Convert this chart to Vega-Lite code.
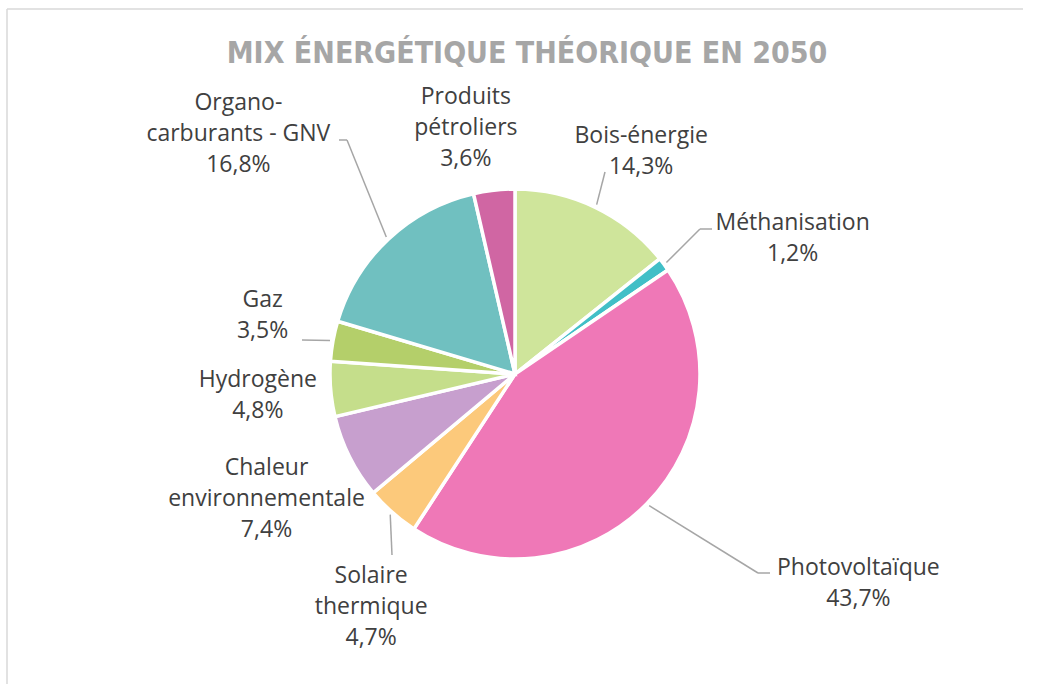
{
  "$schema": "https://vega.github.io/schema/vega-lite/v6.json",
  "width": 1016,
  "height": 730,
  "autosize": "none",
  "padding": {"left": 7, "top": 9, "right": 0, "bottom": 0},
  "background": "white",
  "title": {
    "text": "MIX ÉNERGÉTIQUE THÉORIQUE EN 2050",
    "font": "DejaVu Sans Condensed, DejaVu Sans, sans-serif",
    "fontSize": 30,
    "fontWeight": "bold",
    "color": "#a6a6a6",
    "anchor": "middle",
    "frame": "group",
    "baseline": "alphabetic",
    "offset": -85,
    "dx": 12
  },
  "config": {
    "view": {"stroke": null},
    "text": {"font": "Open Sans", "fontSize": 23, "color": "#404040", "lineHeight": 31, "baseline": "middle", "align": "center"}
  },
  "data": {
    "values": [
      {"rank": 1, "name": "Bois-énergie", "label": "Bois-énergie", "share": 14.3},
      {"rank": 2, "name": "Méthanisation", "label": "Méthanisation", "share": 1.2},
      {"rank": 3, "name": "Photovoltaïque", "label": "Photovoltaïque", "share": 43.7},
      {"rank": 4, "name": "Solaire thermique", "label": "Solaire\nthermique", "share": 4.7},
      {"rank": 5, "name": "Chaleur environnementale", "label": "Chaleur\nenvironnementale", "share": 7.4},
      {"rank": 6, "name": "Hydrogène", "label": "Hydrogène", "share": 4.8},
      {"rank": 7, "name": "Gaz", "label": "Gaz", "share": 3.5},
      {"rank": 8, "name": "Organo-carburants - GNV", "label": "Organo-\ncarburants - GNV", "share": 16.8},
      {"rank": 9, "name": "Produits pétroliers", "label": "Produits\npétroliers", "share": 3.6}
    ]
  },
  "layer": [
    {
      "data": {"values": [{}]},
      "mark": {"type": "rule", "stroke": "#d9d9d9", "strokeWidth": 1.5},
      "encoding": {"x": {"value": 0}, "x2": {"value": "width"}, "y": {"value": 0}}
    },
    {
      "data": {"values": [{}]},
      "mark": {"type": "rule", "stroke": "#d9d9d9", "strokeWidth": 1.5},
      "encoding": {"x": {"value": 0}, "y": {"value": 0}, "y2": {"value": "height"}}
    },
    {
      "mark": {"type": "arc", "outerRadius": 185, "stroke": "white", "strokeWidth": 3.5},
      "encoding": {
        "theta": {"field": "share", "type": "quantitative", "stack": true},
        "order": {"field": "rank", "type": "quantitative"},
        "color": {
          "field": "name",
          "type": "nominal",
          "legend": null,
          "scale": {
            "domain": ["Bois-énergie", "Méthanisation", "Photovoltaïque", "Solaire thermique", "Chaleur environnementale", "Hydrogène", "Gaz", "Organo-carburants - GNV", "Produits pétroliers"],
            "range": ["#cfe59b", "#41bfc7", "#ef78b7", "#fcc97b", "#c79fce", "#c5de8b", "#b4cf6a", "#70c0c0", "#d066a3"]
          }
        }
      }
    },
    {
      "transform": [
        {"stack": "share", "groupby": [], "sort": [{"field": "rank"}], "as": ["s0", "s1"]},
        {"filter": "indexof([1, 2, 3, 4, 7, 8], datum.rank) >= 0"}
      ],
      "mark": {"type": "rule", "stroke": "#a6a6a6", "strokeWidth": 1.5},
      "encoding": {
        "x": {"value": {"expr": "width / 2 + 188 * sin(PI * (datum.s0 + datum.s1) / 100)"}},
        "y": {"value": {"expr": "height / 2 - 188 * cos(PI * (datum.s0 + datum.s1) / 100)"}},
        "x2": {"value": {"expr": "width / 2 + (datum.rank == 1 ? 90 : datum.rank == 2 ? 185 : datum.rank == 3 ? 243 : datum.rank == 4 ? -123 : datum.rank == 7 ? -213 : -168)"}},
        "y2": {"value": {"expr": "height / 2 + (datum.rank == 1 ? -202 : datum.rank == 2 ? -145 : datum.rank == 3 ? 199 : datum.rank == 4 ? 181 : datum.rank == 7 ? -34 : -234)"}}
      }
    },
    {
      "transform": [
        {"filter": "indexof([2, 3, 8], datum.rank) >= 0"}
      ],
      "mark": {"type": "rule", "stroke": "#a6a6a6", "strokeWidth": 1.5},
      "encoding": {
        "x": {"value": {"expr": "width / 2 + (datum.rank == 2 ? 185 : datum.rank == 3 ? 243 : -168)"}},
        "y": {"value": {"expr": "height / 2 + (datum.rank == 2 ? -145 : datum.rank == 3 ? 199 : -234)"}},
        "x2": {"value": {"expr": "width / 2 + (datum.rank == 2 ? 197 : datum.rank == 3 ? 255 : -176)"}},
        "y2": {"value": {"expr": "height / 2 + (datum.rank == 2 ? -145 : datum.rank == 3 ? 199 : -234)"}}
      }
    },
    {
      "transform": [
        {"calculate": "datum.label + '\\n' + replace(format(datum.share, '.1f'), '.', ',') + '%'", "as": "txt"}
      ],
      "mark": {
        "type": "text",
        "lineBreak": "\n",
        "radius": {"expr": "datum.rank == 1 ? 256 : datum.rank == 2 ? 309 : datum.rank == 3 ? 402 : datum.rank == 4 ? 274 : datum.rank == 5 ? 278 : datum.rank == 6 ? 258 : datum.rank == 7 ? 259 : datum.rank == 8 ? 366 : 251"},
        "thetaOffset": {"expr": "datum.rank == 1 ? 0.066 : datum.rank == 2 ? 0.18 : datum.rank == 3 ? -0.229 : datum.rank == 4 ? -0.173 : datum.rank == 7 ? 0.047 : datum.rank == 8 ? -0.103 : datum.rank == 9 ? -0.084 : 0"},
        "dy": {"expr": "-(length(split(datum.txt, '\\n')) - 1) * 15.5"}
      },
      "encoding": {
        "theta": {"field": "share", "type": "quantitative", "stack": true},
        "order": {"field": "rank", "type": "quantitative"},
        "text": {"field": "txt"}
      }
    }
  ]
}
